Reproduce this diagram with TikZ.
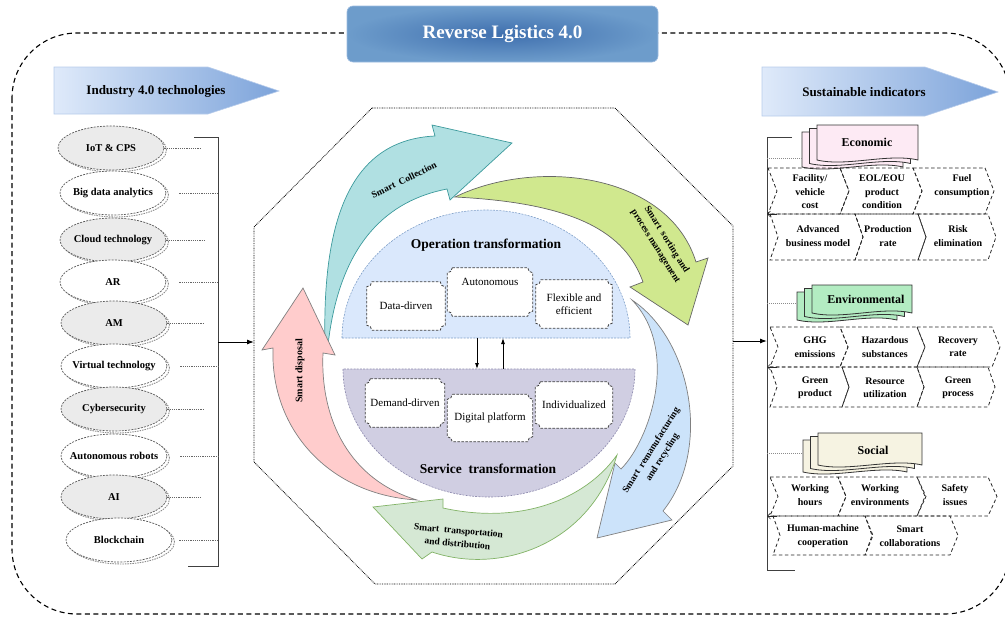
\documentclass[tikz,border=0pt]{standalone}
\usepackage{fontspec}
\setmainfont{Liberation Serif}
\usetikzlibrary{arrows.meta,shapes.geometric,calc}
\definecolor{tealf}{HTML}{B0E0E2}
\definecolor{teald}{HTML}{3C9A9C}
\definecolor{limef}{HTML}{D0E88E}
\definecolor{bluef}{HTML}{CCE3FA}
\definecolor{greenf}{HTML}{D5E8D4}
\definecolor{greend}{HTML}{82B366}
\definecolor{pinkf}{HTML}{FFCCCC}
\definecolor{opf}{HTML}{DAE8FC}
\definecolor{opd}{HTML}{7F9FC8}
\definecolor{svf}{HTML}{D0CEE2}
\definecolor{svd}{HTML}{8C89AD}
\definecolor{ecof}{HTML}{FDEAF4}
\definecolor{envf}{HTML}{B3ECC2}
\definecolor{socf}{HTML}{F6F3E2}
\definecolor{ttlin}{HTML}{3F6FAE}
\definecolor{ttlout}{HTML}{6D9CCB}
\definecolor{ttlbd}{HTML}{9DBCE0}
\definecolor{banL}{HTML}{DFEAFA}
\definecolor{banR}{HTML}{7CA3DA}
\definecolor{techgrey}{HTML}{EBEBEB}
\pgfdeclarelayer{bg}
\pgfdeclarelayer{mid}
\pgfsetlayers{bg,mid,main}
\newcommand\fs[2]{\fontsize{#1}{#2}\selectfont}
\newcommand\mb[1]{\makebox[0pt]{#1}}
\newcommand\plaque[1]{\draw[plqline] ([xshift=5pt]#1.north west) -- ([xshift=-5pt]#1.north east) arc[start angle=180,end angle=270,radius=5pt] -- ([yshift=5pt]#1.south east) arc[start angle=90,end angle=180,radius=5pt] -- ([xshift=5pt]#1.south west) arc[start angle=0,end angle=90,radius=5pt] -- ([yshift=-5pt]#1.north west) arc[start angle=270,end angle=360,radius=5pt] -- cycle;}
\newcommand\chev[5]{\draw[chevst] (#1,#2) -- (#3,#2) -- ({#3+#5},{(#2+#4)/2}) -- (#3,#4) -- (#1,#4) -- ({#1+#5},{(#2+#4)/2}) -- cycle;}
\newcommand\docsh[5]{\draw[docst,fill=#5] ({#1},{#2}) -- ({#3},{#2}) -- ({#3},{#4}) .. controls +(-30,-7) and +(30,7) .. ({#1},{#4}) -- cycle;}
\newcommand\docstack[5]{\docsh{#1-15}{#2+7}{#3-15}{#4+7}{#5}\docsh{#1-7.5}{#2+3.5}{#3-7.5}{#4+3.5}{#5}\docsh{#1}{#2}{#3}{#4}{#5}}
\newcommand\techshadow[1]{\draw[techsh] ([shift={(2.5pt,-2pt)}]#1.center) ellipse [x radius=53pt, y radius=22pt];}
\begin{document}
\begin{tikzpicture}[x=1pt,y=-1pt,
  outer/.style={draw=black, line width=1.1pt, dash pattern=on 5pt off 3.5pt, rounded corners=65pt},
  title/.style={rounded corners=6pt, minimum width=311pt, minimum height=56pt, inner color=ttlin, outer color=ttlout, draw=ttlbd, line width=0.6pt, text=white, font=\bfseries\fs{19}{22}},
  banner/.style={left color=banL, right color=banR, draw=banR!55, line width=0.6pt},
  bant/.style={font=\bfseries\fs{13}{15}, inner sep=0pt},
  tech/.style={ellipse, minimum width=106pt, minimum height=44pt, inner sep=0pt, draw=black!65, line width=0.7pt, dash pattern=on 2pt off 1.2pt, font=\bfseries\fs{10.5}{12}},
  techsh/.style={draw=black!45, line width=0.9pt, dash pattern=on 1.5pt off 1pt},
  techg/.style={fill=techgrey},
  techw/.style={fill=white},
  techln/.style={draw=black!60, line width=0.7pt, dash pattern=on 1.2pt off 1pt},
  brk/.style={draw=black!75, line width=0.9pt},
  conn/.style={draw=black, line width=1pt, -{Latex[length=7pt,width=5pt]}},
  octst/.style={draw=black, line width=0.8pt, dash pattern=on 0.8pt off 0.9pt},
  opst/.style={fill=opf, draw=opd, line width=0.6pt, dash pattern=on 2pt off 1.2pt},
  svst/.style={fill=svf, draw=svd, line width=0.6pt, dash pattern=on 2pt off 1.2pt},
  tform/.style={font=\bfseries\fs{13.5}{15}, inner sep=0pt},
  plq/.style={rectangle, inner sep=1pt, align=center, font=\fs{11}{13}},
  plqline/.style={fill=white, draw=black!75, line width=0.8pt, dash pattern=on 2.5pt off 1.5pt},
  small/.style={draw=black, line width=0.8pt, -{Latex[length=6pt,width=4pt]}},
  tealst/.style={fill=tealf, draw=teald, line width=0.7pt},
  limest/.style={fill=limef, draw=black!60, line width=0.7pt},
  bluest/.style={fill=bluef, draw=black!50, line width=0.7pt},
  greenst/.style={fill=greenf, draw=greend, line width=0.7pt},
  pinkst/.style={fill=pinkf, draw=black!50, line width=0.7pt},
  arrt/.style={font=\bfseries\fs{9.5}{13}, inner sep=0pt, align=center},
  docst/.style={draw=black!80, line width=0.8pt},
  doct/.style={font=\bfseries\fs{12}{14}, inner sep=0pt},
  chevst/.style={draw=black!85, line width=0.8pt, dash pattern=on 3.5pt off 2.5pt},
  ct/.style={font=\bfseries\fs{10}{13.5}, inner sep=0pt, align=center},
  dotln/.style={draw=black!45, line width=0.7pt, dash pattern=on 1pt off 1pt},
  barb/.style={draw=black!85, line width=0.7pt, -{Straight Barb[length=3pt,width=6pt]}}
]
\useasboundingbox (0,0) rectangle (1005,621);

% outer frame and title
\draw[outer] (12,33) rectangle (1010,614);
\node[title] (ttl) at (502.5,34) {Reverse Lgistics 4.0};

% banners
\shadedraw[banner] (54,67) -- (208,67) -- (279,91) -- (208,114) -- (54,114) -- cycle;
\node[bant] (ind) at (156,91) {Industry 4.0 technologies};
\shadedraw[banner] (762,67) -- (925,67) -- (998,92) -- (925,116) -- (762,116) -- cycle;
\node[bant] (sus) at (864,92) {Sustainable indicators};

% technologies
\node[tech,techg] (iot) at (111,148) {\mb{IoT \& CPS}};
\node[tech,techw] (bda) at (113,193) {\mb{Big data analytics}};
\node[tech,techg] (cld) at (113,240) {\mb{Cloud technology}};
\node[tech,techw] (ar) at (113,282) {\mb{AR}};
\node[tech,techg] (am) at (114,323) {\mb{AM}};
\node[tech,techw] (vt) at (114,366) {\mb{Virtual technology}};
\node[tech,techg] (cyb) at (114,409) {\mb{Cybersecurity}};
\node[tech,techw] (aro) at (114,456) {\mb{Autonomous robots}};
\node[tech,techg] (ai) at (114,497) {\mb{AI}};
\node[tech,techw] (bc) at (119,540) {\mb{Blockchain}};
\begin{pgfonlayer}{bg}
\techshadow{iot}\techshadow{bda}\techshadow{cld}\techshadow{ar}\techshadow{am}
\techshadow{vt}\techshadow{cyb}\techshadow{aro}\techshadow{ai}\techshadow{bc}
\end{pgfonlayer}

% left bracket
\coordinate (lbt) at (218,137);
\coordinate (lbb) at (218,566);
\coordinate (lbm) at (218,342);
\draw[brk] (194,137) -- (lbt) -- (lbb) -- (188,566);
\draw[techln] (iot.east) -- ++(37,0);
\draw[techln] ([xshift=13pt]bda.east) -- (bda.east -| lbt);
\draw[techln] (cld.east) -- ++(38,0);
\draw[techln] ([xshift=13pt]ar.east) -- (ar.east -| lbt);
\draw[techln] (am.east) -- ++(36,0);
\draw[techln] ([xshift=13pt]vt.east) -- (vt.east -| lbt);
\draw[techln] (cyb.east) -- ++(36,0);
\draw[techln] ([xshift=13pt]aro.east) -- (aro.east -| lbt);
\draw[techln] (ai.east) -- ++(34,0);
\draw[techln] ([xshift=7pt]bc.east) -- (bc.east -| lbt);

% octagon
\coordinate (octw) at (254,342);
\coordinate (octe) at (733,341);
\draw[octst] (372,108) -- (615,108) -- (733,226) -- (733,466) -- (615,584) -- (375,584) -- (254,462) -- (254,227) -- cycle;
\draw[conn] (lbm) -- (octw);

% right bracket
\coordinate (rbt) at (767,137);
\coordinate (rbb) at (767,570);
\coordinate (rbm) at (767,341);
\draw[brk] (792,137) -- (rbt) -- (rbb) -- (795,570);
\draw[conn] (octe) -- (rbm);

% transformation half discs
\begin{pgfonlayer}{bg}
\draw[opst] (342,338) arc[start angle=180,end angle=360,x radius=144,y radius=128] -- cycle;
\draw[svst] (343,369) arc[start angle=180,end angle=0,x radius=146,y radius=128] -- cycle;
\end{pgfonlayer}
\node[tform] (opt) at (486,245) {Operation transformation};
\node[tform] (svt) at (488,469) {Service\ \ transformation};

\coordinate (opd) at (477,338);
\coordinate (svu) at (477,369);
\coordinate (svu2) at (503,369);
\coordinate (opd2) at (503,338);
\draw[small] (opd) -- (svu);
\draw[small] (svu2) -- (opd2);

\node[plq, minimum width=78pt, minimum height=48pt] (dd) at (406,306) {Data-dirven};
\node[plq, minimum width=85pt, minimum height=48pt] (au) at (490,292) {Autonomous\\[7pt]};
\node[plq, minimum width=76pt, minimum height=48pt] (fe) at (574,304) {Flexible and\\efficient};
\node[plq, minimum width=79pt, minimum height=48pt] (dm) at (405,403) {Demand-dirven};
\node[plq, minimum width=85pt, minimum height=47pt] (dp) at (490,418) {Digital platform};
\node[plq, minimum width=77pt, minimum height=46pt] (iv) at (574,405) {Individualized};
\begin{pgfonlayer}{mid}
\plaque{dd}\plaque{au}\plaque{fe}\plaque{dm}\plaque{dp}\plaque{iv}
\end{pgfonlayer}

% curved arrows
\draw[tealst] (325,345) .. controls (322,220) and (350,140) .. (435,136) -- (432,125) -- (512,143) -- (450,200) -- (447,189) .. controls (390,200) and (340,240) .. (328,345) -- cycle;
\node[arrt, rotate=26] (sc) at (404,180) {Smart\ \ Collection};

\draw[limest] (455,197) .. controls (535,158) and (668,172) .. (696,262) -- (708,258) -- (688,325) -- (630,287) -- (643,282) .. controls (625,232) and (575,203) .. (455,197) -- cycle;
\node[arrt, rotate=-58] (ss) at (661,243) {Smart\ \ sorting and\\process management};

\draw[bluest] (632,300) .. controls (692,340) and (712,450) .. (663,511) -- (672,520) -- (597,538) -- (615,463) -- (621,469) .. controls (650,440) and (680,350) .. (632,300) -- cycle;
\node[arrt, rotate=58] (sr) at (657,454) {Smart\ \ remanufacturing\\and recycling};

\draw[greenst] (617,455) .. controls (585,500) and (520,525) .. (443,508) -- (443,499) -- (373,507) -- (422,559) -- (432,552) .. controls (500,575) and (590,545) .. (617,455) -- cycle;
\node[arrt, rotate=-5] (st) at (458,537) {Smart\ \ transportation\\and distribution};

\draw[pinkst] (417,500) .. controls (350,480) and (320,420) .. (323,353) -- (335,355) -- (303,288) -- (262,350) -- (273,348) .. controls (270,430) and (330,495) .. (417,500) -- cycle;
\node[arrt, rotate=90, font=\bfseries\fs{10}{12}] (sd) at (300,371) {Smart disposal};

% Economic
\docstack{817}{125}{918}{160}{ecof}
\node[doct] (eco) at (867,142) {Economic};
\coordinate (ecoL) at (802,158);
\draw[dotln] (rbt |- ecoL) -- (ecoL);
\chev{768}{168}{840}{214}{9}\chev{840}{168}{913}{214}{9}\chev{913}{168}{985}{214}{9}
\chev{770}{214}{855}{260}{8}\chev{855}{214}{918}{260}{8}\chev{918}{214}{988}{260}{8}
\coordinate (ecoA) at (777,214);
\draw[barb] (ecoA) -- (rbt |- ecoA);
\node[ct] (e1) at (810,192) {Facility/\\vehicle\\cost};
\node[ct] (e2) at (882,192) {EOL/EOU\\product\\condition};
\node[ct] (e3) at (962,186) {Fuel\\consumption};
\node[ct] (e4) at (818,236) {Advanced\\business model};
\node[ct] (e5) at (888,236) {Production\\rate};
\node[ct] (e6) at (958,236) {Risk\\elimination};

% Environmental
\docstack{812}{285}{912}{313}{envf}
\node[doct] (env) at (866,299) {Environmental};
\coordinate (envL) at (797,303);
\draw[dotln] (rbt |- envL) -- (envL);
\chev{770}{327}{840}{367}{8}\chev{840}{327}{917}{367}{8}\chev{917}{327}{992}{367}{8}
\chev{770}{367}{842}{407}{7}\chev{842}{367}{917}{407}{7}\chev{917}{367}{988}{407}{7}
\coordinate (envA) at (777,367);
\draw[barb] (envA) -- (rbt |- envA);
\node[ct] (n1) at (815,347) {GHG\\emissions};
\node[ct] (n2) at (885,347) {Hazardous\\substances};
\node[ct] (n3) at (958,347) {Recovery\\rate};
\node[ct] (n4) at (815,388) {Green\\product};
\node[ct] (n5) at (885,388) {Resource\\utilization};
\node[ct] (n6) at (958,388) {Green\\process};

% Social
\docstack{818}{433}{922}{465}{socf}
\node[doct] (soc) at (873,450) {Social};
\coordinate (socL) at (803,453);
\draw[dotln] (rbt |- socL) -- (socL);
\chev{770}{477}{838}{516}{8}\chev{838}{477}{917}{516}{8}\chev{917}{477}{988}{516}{9}
\chev{773}{516}{865}{555}{7}\chev{865}{516}{950}{555}{8}
\coordinate (socA) at (777,516);
\draw[barb] (socA) -- (rbt |- socA);
\node[ct] (s1) at (810,495) {Working\\hours};
\node[ct] (s2) at (880,495) {Working\\environments};
\node[ct] (s3) at (955,495) {Safety\\issues};
\node[ct] (s4) at (823,536) {Human-machine\\cooperation};
\node[ct] (s5) at (910,536) {Smart\\collaborations};
\end{tikzpicture}
\end{document}
